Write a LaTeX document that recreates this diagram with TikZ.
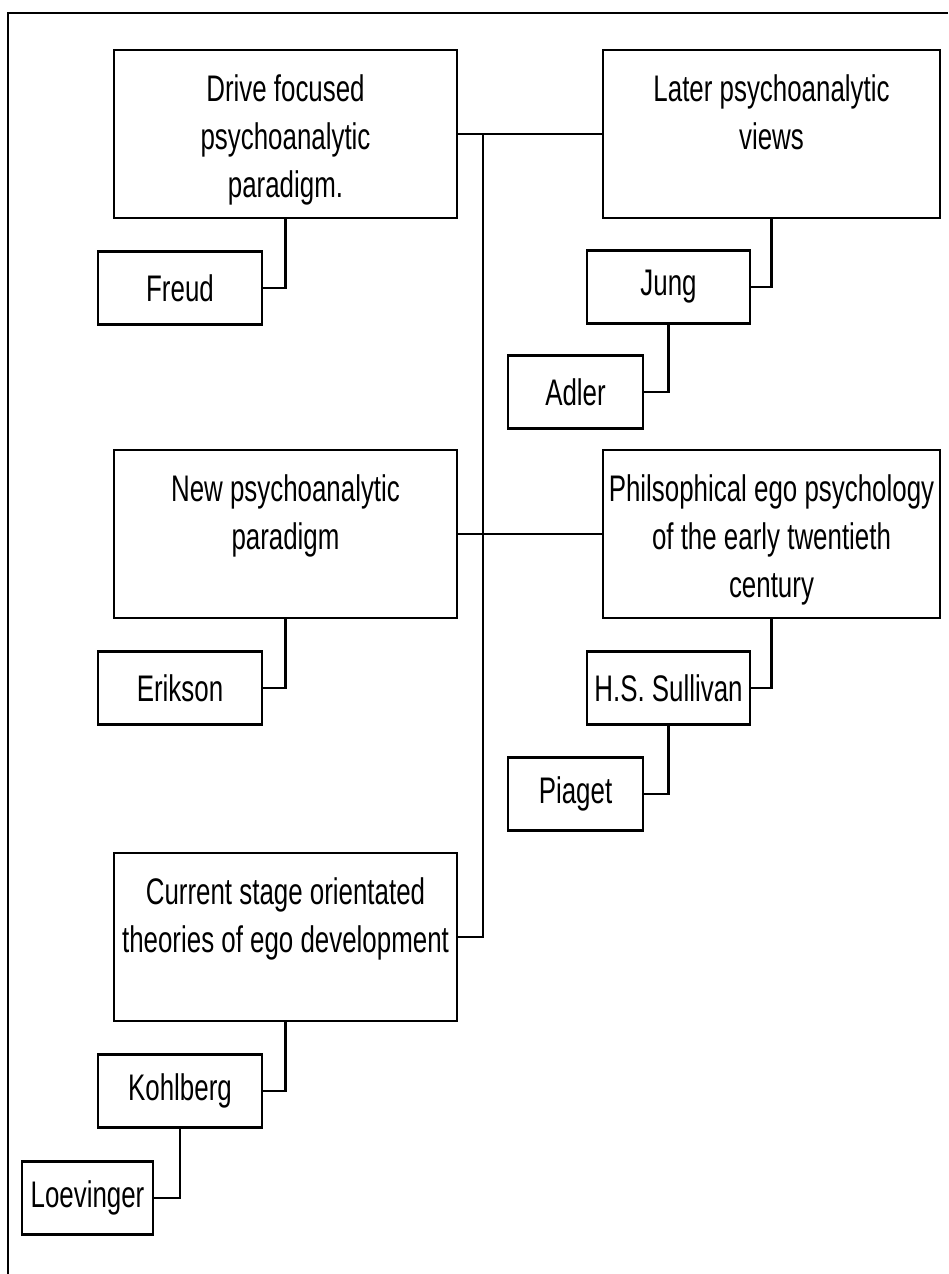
\documentclass[tikz,border=0pt]{standalone}
\usepackage{fontspec}
\setmainfont[FakeStretch=0.7]{Liberation Sans}

% text box with lines from the top, as in the big boxes
\newcommand{\toplines}[2]{\parbox[c][168pt][t]{#1}{\centering\rule{0pt}{51pt}#2}}

\begin{document}
\begin{tikzpicture}[
    x=1pt, y=-1pt,
    bigbox/.style={draw, line width=2.4pt, inner sep=0pt, font=\fontsize{37}{48}\selectfont},
    namebox/.style={draw, line width=2.4pt, inner sep=0pt, minimum height=73pt, font=\fontsize{37}{44}\selectfont},
    link/.style={line width=2.4pt}
]
\useasboundingbox (0,0) rectangle (948,1274);

% Frame
\draw[link] (948,13) -- (8,13) -- (8,1274);

% Paradigms
\node[bigbox] (drive) at (285.5,134) {\toplines{343pt}{Drive focused\\psychoanalytic\\paradigm.}};
\node[bigbox] (later) at (771.5,134) {\toplines{337pt}{Later psychoanalytic\\views}};
\node[bigbox] (newpa) at (285.5,534) {\toplines{343pt}{New psychoanalytic\\paradigm}};
\node[bigbox] (philo) at (771.5,534) {\toplines{337pt}{Philsophical ego psychology\\of the early twentieth\\century}};
\node[bigbox] (current) at (285.5,937) {\toplines{343pt}{Current stage orientated\\theories of ego development}};

% Names
\node[namebox, minimum width=164pt] (freud) at (180,288) {Freud};
\node[namebox, minimum width=163pt] (jung) at (668.5,287) {Jung};
\node[namebox, minimum width=135pt] (adler) at (575.5,392) {Adler};
\node[namebox, minimum width=164pt] (erikson) at (180,688) {Erikson};
\node[namebox, minimum width=163pt] (sullivan) at (668.5,688) {H.S. Sullivan};
\node[namebox, minimum width=135pt] (piaget) at (575.5,794) {Piaget};
\node[namebox, minimum width=164pt] (kohlberg) at (180,1091) {Kohlberg};
\node[namebox, minimum width=131pt] (loevinger) at (87.5,1198) {Loevinger};

% Trunk
\coordinate (trunk) at (483,134);
\draw[link] (drive.east) -- (later.west);
\draw[link] (newpa.east) -- (philo.west);
\draw[link] (trunk) |- (current.east);

% Branches
\draw[link] (drive.south) |- (freud.east);
\draw[link] (later.south) |- (jung.east);
\draw[link] (jung.south) |- (adler.east);
\draw[link] (newpa.south) |- (erikson.east);
\draw[link] (philo.south) |- (sullivan.east);
\draw[link] (sullivan.south) |- (piaget.east);
\draw[link] (current.south) |- (kohlberg.east);
\draw[link] (kohlberg.south) |- (loevinger.east);

\end{tikzpicture}
\end{document}
